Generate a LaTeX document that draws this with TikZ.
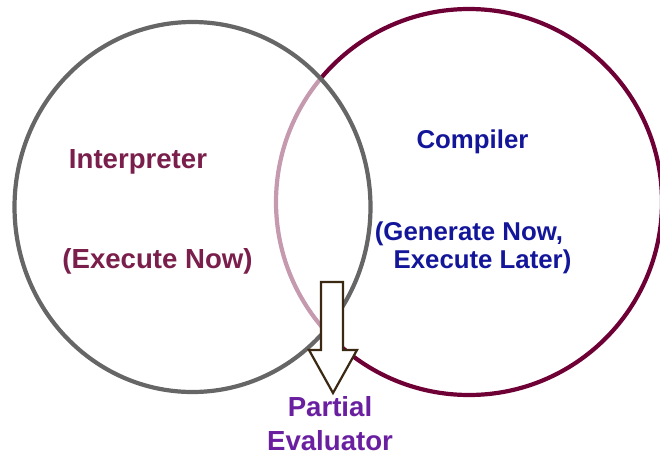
\documentclass[tikz,border=0pt]{standalone}
\usepackage{fontspec}
\setmainfont{Liberation Sans}
\definecolor{ringgray}{HTML}{666666}
\definecolor{ringmaroon}{HTML}{6E0036}
\definecolor{interp}{HTML}{7A1F4C}
\definecolor{compblue}{HTML}{14169A}
\definecolor{pevpurple}{HTML}{6A1FA0}
\definecolor{arrowbrown}{HTML}{3A2812}
\begin{document}
\begin{tikzpicture}[x=1pt,y=-1pt,
  ring/.style={line width=4.2pt},
  label/.style={font=\bfseries\fontsize{27.6}{30}\selectfont, anchor=base, inner sep=0pt},
  rlabel/.style={font=\bfseries\fontsize{25.8}{30}\selectfont, anchor=base, inner sep=0pt}]
  \useasboundingbox (0,0) rectangle (660,455);
  \clip (0,0) rectangle (660,455);

  % Compiler ring
  \draw[ring, ringmaroon] (469,202) ellipse [x radius=193, y radius=193];
  % Interpreter ring, washing out the compiler ring where they overlap
  \draw[ring, ringgray, fill=white, fill opacity=0.6] (192.5,207) ellipse [x radius=178, y radius=185];

  % Labels
  \node[label, text=interp] (interp) at (138,168) {Interpreter};
  \node[label, text=interp] (execnow) at (157.5,268) {(Execute Now)};
  \node[rlabel, text=compblue] (comp) at (472.5,148.3) {Compiler};
  \node[rlabel, text=compblue] (gen) at (469,240) {(Generate Now,};
  \node[rlabel, text=compblue] (later) at (482.5,268.3) {Execute Later)};
  \node[label, text=pevpurple] (partial) at (330,416) {Partial};
  \node[label, text=pevpurple] (evaluator) at (330,450) {Evaluator};

  % Block arrow down to the partial evaluator
  \draw[line width=2.2pt, arrowbrown, fill=white, line join=miter]
    (321,282) -- (343,282) -- (343,350) -- (357,350) -- (333,393)
    -- (309,350) -- (321,350) -- cycle;
\end{tikzpicture}
\end{document}
